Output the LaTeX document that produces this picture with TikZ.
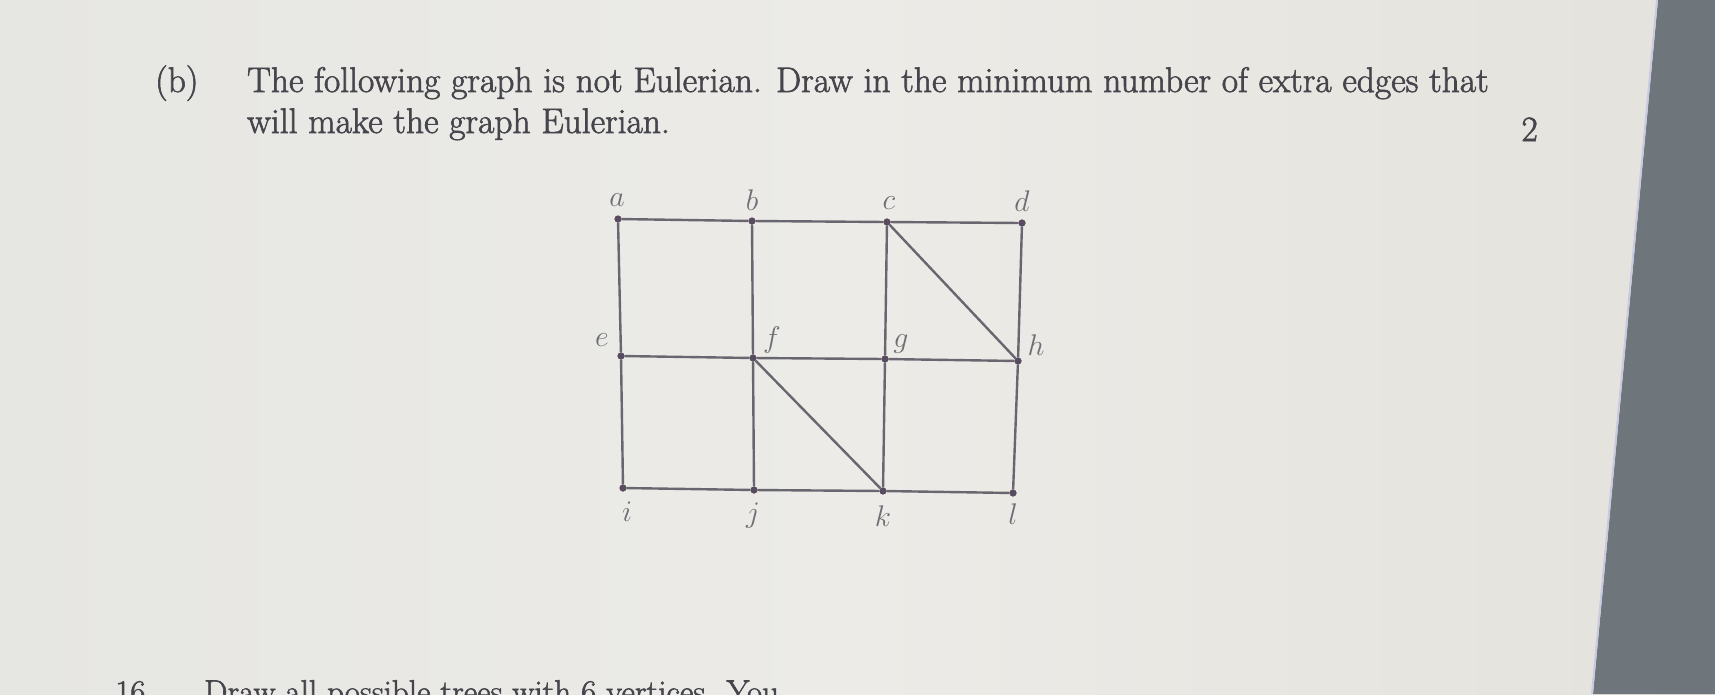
\documentclass[tikz,border=0pt]{standalone}
\usepackage{tikz}
\usepackage{graphicx}
\usepackage{fontspec}
\newfontfamily\paperfont{Latin Modern Roman}[FakeBold=1.8]
\definecolor{paperL}{HTML}{E6E6E2}
\definecolor{paperM}{HTML}{ECEBE7}
\definecolor{paperR}{HTML}{E4E2DC}
\definecolor{band}{HTML}{6E757B}
\definecolor{bandedge}{HTML}{C9CAE0}
\definecolor{ink}{HTML}{46454C}
\definecolor{edgecol}{HTML}{6A6670}
\definecolor{dotcol}{HTML}{5A4C60}
\definecolor{labcol}{HTML}{6E6E74}
\newcommand{\vlab}[1]{\scalebox{1.2}{$#1$}}
\tikzset{
  vtx/.style={circle,fill=dotcol,inner sep=0pt,minimum size=7pt},
  lab/.style={inner sep=0pt,text=labcol,font=\fontsize{24.5}{28}\selectfont},
  txt/.style={inner sep=0pt,text=ink,font=\paperfont\fontsize{35.5}{41}\selectfont,anchor=base west},
  smalltxt/.style={txt,font=\paperfont\fontsize{33}{38}\selectfont}
}
\tikzset{gedge/.style={draw=edgecol,line width=2.4pt}}
\begin{document}
\begin{tikzpicture}[x=1pt,y=-1pt]
\useasboundingbox (0,0) rectangle (1715,694);
\clip (0,0) rectangle (1715,694);
\shade[left color=paperL,right color=paperR,middle color=paperM] (0,0) rectangle (1715,694);
\fill[band] (1658,0) -- (1715,0) -- (1715,694) -- (1593,694) -- cycle;
\draw[bandedge,line width=2pt] (1657,0) -- (1592,694);

% text
\node[txt] (part) at (155,92) {(b)};
\node[txt] (line1) at (247,92) {The following graph is not Eulerian. Draw in the minimum number of extra edges that};
\node[txt] (line2) at (247,133) {will make the graph Eulerian.};
\node[txt,anchor=base east] (mark) at (1538,141) {2};
\node[smalltxt] (qnum) at (115,703) {16};
\node[smalltxt] (qtext) at (204,703) {Draw all possible trees with 6 vertices. You};

% vertices
\node[vtx] (a) at (618,219) {};
\node[vtx] (b) at (752,221) {};
\node[vtx] (c) at (887,222) {};
\node[vtx] (d) at (1022,223) {};
\node[vtx] (e) at (621,356) {};
\node[vtx] (f) at (753,358) {};
\node[vtx] (g) at (885,359) {};
\node[vtx] (h) at (1018,361) {};
\node[vtx] (i) at (623,488) {};
\node[vtx] (j) at (754,490) {};
\node[vtx] (k) at (883,491) {};
\node[vtx] (l) at (1013,493) {};

% edges
\draw[gedge] (a) -- (b) -- (c) -- (d);
\draw[gedge] (e) -- (f) -- (g) -- (h);
\draw[gedge] (i) -- (j) -- (k) -- (l);
\draw[gedge] (a) -- (e) -- (i);
\draw[gedge] (b) -- (f) -- (j);
\draw[gedge] (c) -- (g) -- (k);
\draw[gedge] (d) -- (h) -- (l);
\draw[gedge] (c) -- (h);
\draw[gedge] (f) -- (k);
\foreach \v in {a,b,c,d,e,f,g,h,i,j,k,l} \node[vtx] at (\v) {};

% labels
\node[lab] (la) at (617,200) {\vlab{a}};
\node[lab] (lb) at (752,200) {\vlab{b}};
\node[lab] (lc) at (889,203) {\vlab{c}};
\node[lab] (ld) at (1022,201) {\vlab{d}};
\node[lab] (le) at (602,340) {\vlab{e}};
\node[lab] (lf) at (772,340) {\vlab{f}};
\node[lab] (lg) at (901,344) {\vlab{g}};
\node[lab] (lh) at (1036,345) {\vlab{h}};
\node[lab] (li) at (627,512) {\vlab{i}};
\node[lab] (lj) at (753,516) {\vlab{j}};
\node[lab] (lk) at (883,516) {\vlab{k}};
\node[lab] (ll) at (1013,514) {\vlab{l}};
\end{tikzpicture}
\end{document}
